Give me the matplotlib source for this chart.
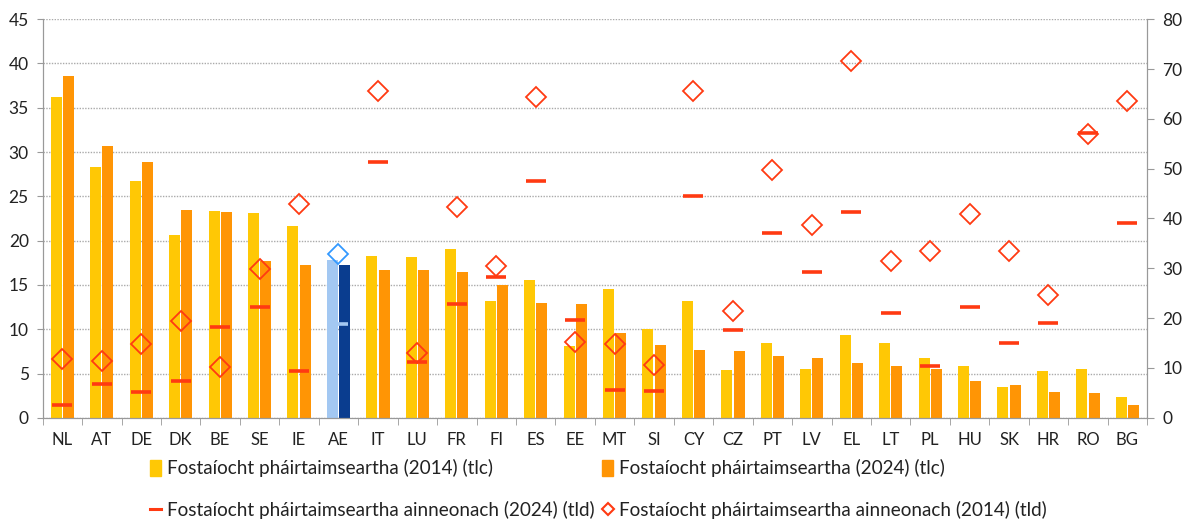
import matplotlib.pyplot as plt
from matplotlib.patches import Patch
from matplotlib.lines import Line2D
import numpy as np

plt.rcParams['font.family'] = ['Lato', 'DejaVu Sans']

countries = ['NL', 'AT', 'DE', 'DK', 'BE', 'SE', 'IE', 'AE', 'IT', 'LU', 'FR', 'FI', 'ES', 'EE',
             'MT', 'SI', 'CY', 'CZ', 'PT', 'LV', 'EL', 'LT', 'PL', 'HU', 'SK', 'HR', 'RO', 'BG']

# part-time employment, % of total (left axis)
pt_2014 = [36.2, 28.3, 26.7, 20.6, 23.3, 23.1, 21.7, 17.8, 18.3, 18.2, 19.1, 13.2, 15.6, 8.1,
           14.5, 10.0, 13.2, 5.4, 8.4, 5.5, 9.4, 8.4, 6.8, 5.8, 3.5, 5.3, 5.5, 2.3]
pt_2024 = [38.6, 30.7, 28.9, 23.5, 23.2, 17.7, 17.3, 17.2, 16.7, 16.7, 16.5, 15.0, 13.0, 12.9,
           9.6, 8.2, 7.6, 7.5, 7.0, 6.7, 6.2, 5.8, 5.5, 4.2, 3.7, 2.9, 2.8, 1.5]

# involuntary part-time, % of part-time (right axis)
invol_2024 = [2.5, 6.7, 5.1, 7.3, 18.2, 22.3, 9.4, 18.9, 51.4, 11.2, 22.8, 28.3, 47.5, 19.6,
              5.5, 5.3, 44.5, 17.6, 37.1, 29.2, 41.3, 21.0, 10.4, 22.3, 15.1, 19.1, 57.2, 39.0]
invol_2014 = [11.9, 11.4, 14.8, 19.5, 10.1, 29.8, 43.0, 32.8, 65.5, 13.0, 42.4, 30.5, 64.4, 15.3,
              14.8, 10.5, 65.5, 21.5, 49.7, 38.7, 71.6, 31.5, 33.4, 40.9, 33.4, 24.6, 56.9, 63.6]

yellow = '#FFC805'
orange = '#FF9505'
red = '#FF3A12'
lblue = '#A3C8F2'
dblue = '#0A3D8F'
mblue = '#3399FF'

x = np.arange(len(countries))
c14 = [lblue if c == 'AE' else yellow for c in countries]
c24 = [dblue if c == 'AE' else orange for c in countries]

fig = plt.figure(figsize=(11.85, 5.19), dpi=100)
ax = fig.add_axes([0.036, 0.195, 0.932, 0.768])
ax2 = ax.twinx()

w = 0.28
ax.bar(x - 0.155, pt_2014, width=w, color=c14, zorder=2)
ax.bar(x + 0.155, pt_2024, width=w, color=c24, zorder=2)

ax.set_xlim(-0.5, len(countries) - 0.5)
ax.set_ylim(0, 45)
ax.set_yticks(np.arange(0, 46, 5))
ax.yaxis.grid(True, linestyle=(0, (1, 1)), color='#AAAAAA', linewidth=1, zorder=0)
ax.set_axisbelow(True)
ax.set_xticks(x)
ax.set_xticklabels(countries)
ax.set_xticks(np.arange(-0.5, len(countries)), minor=True)
ax.tick_params(axis='x', which='major', length=0, pad=10, labelsize=12, colors='#222222')
ax.tick_params(axis='x', which='minor', length=5, color='#999999')
ax.tick_params(axis='y', length=4, color='#999999', labelsize=12.5, colors='#222222', pad=6)

ax2.set_ylim(0, 80)
ax2.set_yticks(np.arange(0, 81, 10))
ax2.tick_params(axis='y', length=5, color='#999999', labelsize=12.5, colors='#222222', pad=6)

for a in (ax, ax2):
    a.spines['top'].set_visible(False)
    for s in ('left', 'right', 'bottom'):
        a.spines[s].set_color('#999999')

m24 = [lblue if c == 'AE' else red for c in countries]
m14 = [mblue if c == 'AE' else red for c in countries]
for i in range(len(countries)):
    ax2.plot(x[i], invol_2024[i], marker='_', markersize=15, markeredgewidth=2.6,
             color=m24[i], linestyle='none', zorder=3)
    ax2.plot(x[i], invol_2014[i], marker='D', markersize=10.5, markerfacecolor='none',
             markeredgecolor=m14[i], markeredgewidth=1.3, linestyle='none', zorder=4)

handles = [
    Patch(color=yellow, label='Fostaíocht pháirtaimseartha (2014) (tlc)'),
    Line2D([], [], color=red, lw=2.2, label='Fostaíocht pháirtaimseartha ainneonach (2024) (tld)'),
    Patch(color=orange, label='Fostaíocht pháirtaimseartha (2024) (tlc)'),
    Line2D([], [], marker='D', markersize=6.5, markerfacecolor='white', markeredgecolor=red,
           markeredgewidth=1.5, linestyle='none', label='Fostaíocht pháirtaimseartha ainneonach (2014) (tld)'),
]
fig.legend(handles=handles, loc='lower center', bbox_to_anchor=(0.505, -0.033), ncol=2,
           frameon=False, fontsize=13.6, handlelength=0.6, handleheight=1.0, handletextpad=0.3,
           columnspacing=0.4, labelspacing=1.25, labelcolor='#222222')

fig.savefig('out.png', dpi=100)
